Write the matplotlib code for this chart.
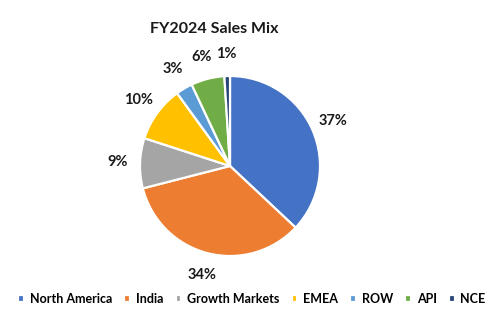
import matplotlib
matplotlib.use("Agg")
import matplotlib.pyplot as plt

regions = ["North America", "India", "Growth Markets", "EMEA", "ROW", "API", "NCE"]
shares = [37, 34, 9, 10, 3, 6, 1]
colors = ["#4472C4", "#ED7D31", "#A5A5A5", "#FFC000", "#5B9BD5", "#70AD47", "#264478"]

plt.rcParams["font.family"] = ["Lato", "DejaVu Sans"]

W, H = 499, 327
fig = plt.figure(figsize=(W / 100, H / 100), dpi=100)

cx, cy, r = 230, 161, 90
ax = fig.add_axes([(cx - r) / W, (cy - r) / H, 2 * r / W, 2 * r / H])

wedges, texts, autotexts = ax.pie(
    shares,
    colors=colors,
    startangle=90,
    counterclock=False,
    autopct=lambda p: f"{p:.0f}%",
    pctdistance=1.25,
    wedgeprops=dict(edgecolor="white", linewidth=1.6),
    textprops=dict(fontsize=10.5, fontweight="bold", color="#1a1a1a"),
)
ax.set_xlim(-1, 1)
ax.set_ylim(-1, 1)
ax.set_aspect("equal")

fig.text(214 / W, 1 - 29 / H, "FY2024 Sales Mix", ha="center", va="center",
         fontsize=11.5, fontweight="bold", color="#1a1a1a")

fig.legend(
    wedges, regions,
    loc="center", bbox_to_anchor=(252 / W, 1 - 299 / H),
    ncol=len(regions), frameon=False,
    handlelength=0.45, handleheight=0.45, handletextpad=0.45,
    columnspacing=1.0, borderpad=0.2, borderaxespad=0,
    prop=dict(size=9, weight="bold"),
)

fig.savefig("out.png", dpi=100)
